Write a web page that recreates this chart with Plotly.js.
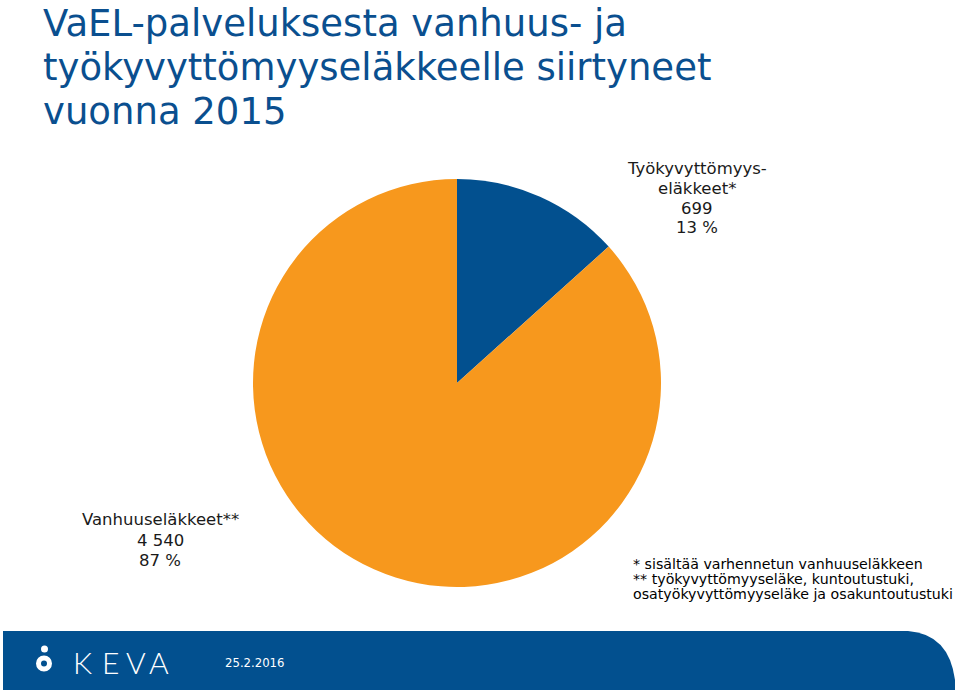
<!DOCTYPE html>
<html>
<head>
<meta charset="utf-8">
<script src="https://cdn.plot.ly/plotly-3.0.1.min.js"></script>
<style>html,body{margin:0;padding:0;background:#fff;}#chart{width:960px;height:690px;}</style>
</head>
<body>
<div id="chart"></div>
<script>
const categories = ["Työkyvyttömyyseläkkeet*", "Vanhuuseläkkeet**"];
const labelLines = [["Työkyvyttömyys-", "eläkkeet*"], ["Vanhuuseläkkeet**"]];
const counts = [699, 4540];
const percents = ["13 %", "87 %"];
const countTexts = ["699", "4 540"];
const colors = ["#02508F", "#F7981D"];
const titleLines = ["VaEL-palveluksesta vanhuus- ja", "työkyvyttömyyseläkkeelle siirtyneet", "vuonna 2015"];
const footnotes = ["* sisältää varhennetun vanhuuseläkkeen", "** työkyvyttömyyseläke, kuntoutustuki,", "osatyökyvyttömyyseläke ja osakuntoutustuki"];
const dateText = "25.2.2016";
const logoLetters = ["K", "E", "V", "A"];

const W = 960, H = 690;
const px = x => x / W;
const py = y => 1 - y / H;

const trace = {
  type: "pie",
  values: counts,
  labels: categories,
  marker: {colors: colors, line: {width: 0}},
  sort: false,
  direction: "clockwise",
  rotation: 0,
  textinfo: "none",
  hoverinfo: "label+value+percent",
  showlegend: false,
  domain: {x: [px(457 - 204), px(457 + 204)], y: [py(383 + 204), py(383 - 204)]}
};

const annotations = [];
function line(text, x, baseline, size, font, xanchor, color) {
  annotations.push({
    x: px(x), y: py(baseline - 0.3 * size), xref: "paper", yref: "paper",
    xanchor: xanchor, yanchor: "middle", showarrow: false, text: text, borderpad: 0,
    font: {family: font, size: size, color: color}
  });
}

// title
const titleBase = [35, 78.5, 122.5];
titleLines.forEach((t, i) => line(t, 42, titleBase[i], 37, "DejaVu Sans, Verdana, sans-serif", "left", "#0A4F8F"));

// slice labels
const lab1 = labelLines[0].concat([countTexts[0], percents[0]]);
const lab1Base = [173, 193, 213, 232];
lab1.forEach((t, i) => line(t, 697, lab1Base[i], 16.5, "DejaVu Sans, Verdana, sans-serif", "center", "#1a1a1a"));
const lab2 = labelLines[1].concat([countTexts[1], percents[1]]);
const lab2Base = [524, 545, 565];
lab2.forEach((t, i) => line(t, 160, lab2Base[i], 16.5, "DejaVu Sans, Verdana, sans-serif", "center", "#1a1a1a"));

// footnotes
const fnBase = [568, 583, 598];
footnotes.forEach((t, i) => line(t, 632, fnBase[i], 14.2, "DejaVu Sans, Verdana, sans-serif", "left", "#000"));

// footer texts
line(dateText, 224, 666, 13, "DejaVu Sans Condensed, DejaVu Sans, sans-serif", "left", "#ffffff");
const logoX = [82, 110, 136, 159];
logoLetters.forEach((t, i) => {
  annotations.push({
    x: px(logoX[i]), y: py(671 - 0.3 * 30), xref: "paper", yref: "paper",
    xanchor: "center", yanchor: "middle", showarrow: false, text: t,
    font: {family: "Lato, sans-serif", size: 30, color: "#ffffff", weight: 300}
  });
});

// footer band path
function P(x, y) { return px(x).toFixed(5) + "," + py(y).toFixed(5); }
const footerPath = "M" + P(3, 690) + " L" + P(3, 631) + " L" + P(908, 631) +
  " Q" + P(949, 634) + " " + P(955, 680) + " L" + P(955, 690) + " Z";

const shapes = [
  {type: "path", xref: "paper", yref: "paper", path: footerPath, fillcolor: "#02508F", line: {width: 0}, layer: "below"},
  {type: "circle", xref: "paper", yref: "paper", x0: px(41), x1: px(48), y0: py(652.5), y1: py(645.5), fillcolor: "#fff", line: {width: 0}},
  {type: "circle", xref: "paper", yref: "paper", x0: px(38.5), x1: px(49.5), y0: py(669), y1: py(658), fillcolor: "rgba(0,0,0,0)", line: {width: 5, color: "#fff"}}
];

const layout = {
  width: W, height: H,
  margin: {l: 0, r: 0, t: 0, b: 0},
  paper_bgcolor: "#fff",
  showlegend: false,
  annotations: annotations,
  shapes: shapes
};

Plotly.newPlot("chart", [trace], layout, {displayModeBar: false, staticPlot: true});
</script>
</body>
</html>
